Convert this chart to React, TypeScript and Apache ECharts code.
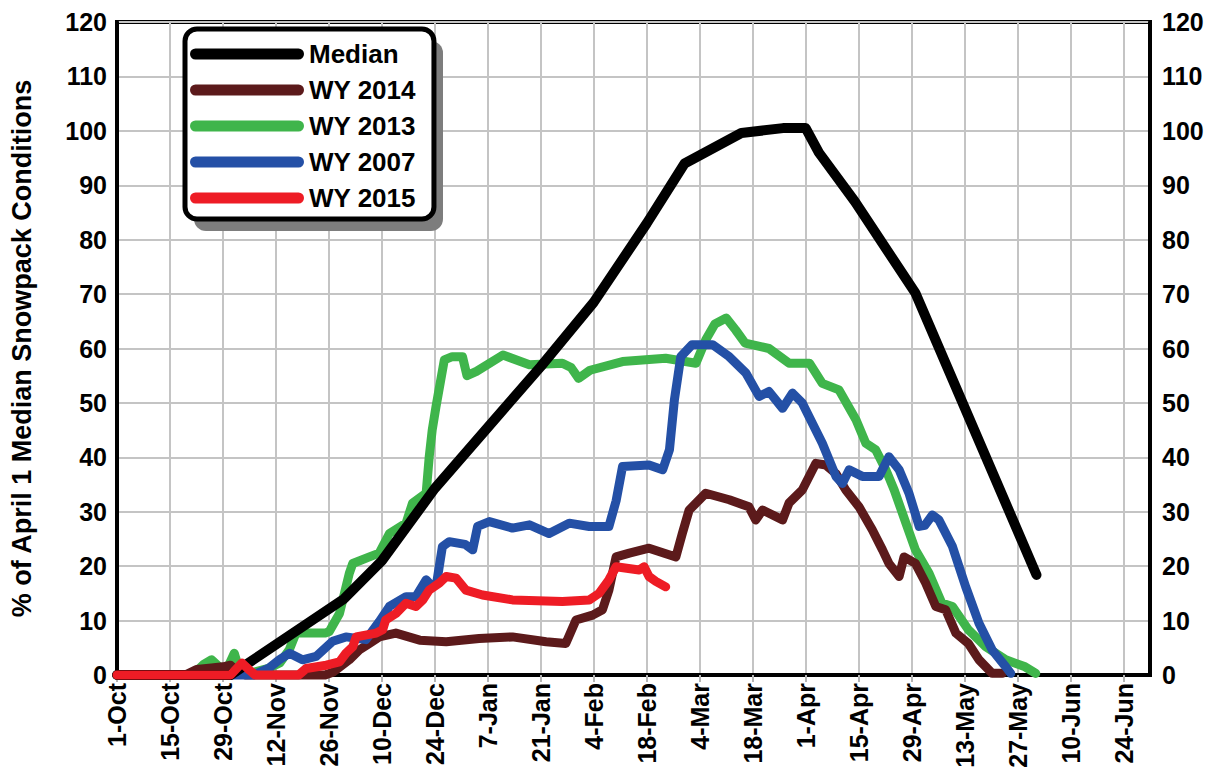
import React, { useEffect, useRef } from 'react';
import * as echarts from 'echarts';

// Tick labels for the day axis (day 0 = 1-Oct, one label every 14 days)
const xTickLabels = [
  '1-Oct', '15-Oct', '29-Oct', '12-Nov', '26-Nov', '10-Dec', '24-Dec', '7-Jan', '21-Jan', '4-Feb',
  '18-Feb', '4-Mar', '18-Mar', '1-Apr', '15-Apr', '29-Apr', '13-May', '27-May', '10-Jun', '24-Jun',
];

// [day since 1-Oct, % of April 1 median]
const median: [number, number][] = [
  [0, 0], [30, 0], [60, 14], [70, 21], [84, 34.3], [98, 45.5], [112, 56.7], [126, 68.5], [140, 83],
  [150, 94], [165, 99.6], [176, 100.5], [182, 100.5], [185.5, 96], [195, 87], [211, 70.2], [243, 18.4],
];

const wy2014: [number, number][] = [
  [0, 0], [18, 0], [21, 1], [25, 1.3], [28, 1.5], [30, 1.8], [32, 0.5], [34, 0], [55, 0], [57, 0.5],
  [61.4, 2.8], [64, 4.6], [66.7, 5.8], [69.3, 7], [73.7, 7.7], [80, 6.4], [87, 6.1], [95.7, 6.7],
  [104.5, 7], [113.4, 6.1], [118.6, 5.8], [121.3, 10.1], [125.7, 11], [128.3, 12], [130, 15.6],
  [131.9, 21.7], [135.4, 22.4], [140.6, 23.3], [147.7, 21.7], [149.4, 26], [151.2, 30.3], [155.6, 33.4],
  [161.8, 32.2], [167, 30.9], [168.8, 28.5], [170.6, 30.3], [175.9, 28.5], [177.6, 31.6], [181.1, 34],
  [184.7, 38.9], [187.3, 38.6], [190, 37], [192.6, 34], [196.1, 30.9], [199.6, 26.7], [202.3, 23],
  [204, 20.5], [206.7, 18.1], [208, 21.7], [211, 20.5], [213.7, 16.9], [216.4, 12.6], [219, 12],
  [221.7, 7.7], [225, 5.8], [227.8, 2.8], [231.3, 0.3], [234, 0.3],
];

const wy2013: [number, number][] = [
  [0, 0], [20, 0], [23, 2], [25, 2.8], [27, 1.5], [29, 1], [31, 4], [32.5, 0.5], [36, 0.5], [40, 1.2],
  [43, 2.2], [45.5, 4.6], [47.3, 7.7], [55, 7.7], [56.1, 8], [58.8, 11.3], [61.4, 18.7], [62.3, 20.5],
  [66.7, 21.7], [69.3, 22.4], [72, 26], [76.4, 27.9], [78.1, 31.6], [81.7, 33.4], [82.5, 40],
  [83.3, 45], [84.3, 49.3], [86.5, 57.9], [88.6, 58.5], [91.3, 58.5], [92.5, 55], [95, 55.8],
  [102, 58.8], [109, 57], [117.7, 57.3], [120, 56.5], [122, 54.5], [125, 56], [133.6, 57.6],
  [145, 58.2], [153, 57.3], [155.6, 61.6], [158, 64.5], [161, 65.6], [163.5, 63.4], [166, 61],
  [172.3, 60], [177.6, 57.3], [183, 57.3], [186.4, 53.6], [190.8, 52.4], [195.3, 46.9], [197.9, 42.6],
  [200.5, 41.4], [203.2, 37.7], [205.4, 34], [208.5, 27.9], [211, 23], [214.6, 18.7], [218, 13.2],
  [220.8, 12.6], [225, 8.3], [229.6, 5.2], [234.9, 2.8], [240, 1.5], [242.8, 0.3],
];

const wy2007: [number, number][] = [
  [0, 0], [36, 0], [40, 1.2], [42.9, 2.8], [45.6, 4], [49, 2.8], [52.6, 3.4], [57, 6.2], [60.5, 7],
  [65.8, 6.5], [69.3, 9.8], [72, 12.6], [76.4, 14.4], [79, 14.4], [81.7, 17.5], [83.4, 16.2],
  [84.5, 17], [86, 23.6], [87.8, 24.5], [92, 24], [94, 23], [95.3, 27.3], [98.4, 28.2], [104.5, 27],
  [109, 27.6], [114.2, 26], [119.5, 27.9], [124.8, 27.3], [130, 27.3], [131.9, 32], [133.6, 38.3],
  [140.6, 38.6], [144.2, 37.7], [146, 41.4], [147.3, 50.5], [149, 58.5], [152, 60.7], [157.4, 60.7],
  [161.8, 58.5], [166.2, 55.5], [169.7, 51.2], [172.3, 52.1], [175.9, 49], [178.5, 51.8], [181.1, 50],
  [186.4, 42.6], [190, 36.5], [191.7, 35.2], [193.5, 37.7], [197, 36.5], [201.4, 36.5], [204, 40.1],
  [206.7, 37.7], [209.3, 33.4], [212, 27.3], [213.5, 27.5], [215.5, 29.4], [217.2, 28.5],
  [220.8, 23.6], [224.3, 16.2], [227.8, 9.5], [231.3, 4.6], [234.9, 1.5], [236.2, 0.3],
];

const wy2015: [number, number][] = [
  [0, 0], [30, 0], [33, 2.2], [35, 0.9], [36.5, 0], [48, 0], [50, 1.2], [55.3, 1.8], [58.8, 2.4],
  [60.5, 4], [62.3, 5.2], [63.2, 7], [68.5, 7.7], [70.2, 8.3], [71, 10.1], [73.7, 11.3], [76.4, 13.2],
  [79, 12.6], [80.8, 13.8], [82.5, 15.6], [85.2, 16.9], [87, 18.1], [89.6, 17.8], [92.2, 15.6],
  [96.6, 14.7], [104.5, 13.8], [117.7, 13.5], [124.8, 13.8], [127.4, 15], [130, 17.5], [131.9, 19.9],
  [138, 19.3], [139.3, 19.9], [140.6, 18.1], [142.4, 17.2], [145, 16.2],
];

const FONT = '"Liberation Sans", Arial, Helvetica, sans-serif';
const CAPSULE = 'path://M5.5,0L108.5,0A5.5,5.5,0,0,1,108.5,11L5.5,11A5.5,5.5,0,0,1,5.5,0Z';

export default function App() {
  const ref = useRef<HTMLDivElement>(null);

  useEffect(() => {
    document.body.style.margin = '0';
    const chart = echarts.init(ref.current!, null, { renderer: 'svg' });

    const mk = (name: string, data: [number, number][], color: string, width: number) => ({
      name,
      type: 'line',
      data,
      symbol: 'none',
      showSymbol: false,
      clip: false,
      silent: true,
      itemStyle: { color },
      lineStyle: { color, width, cap: 'round', join: 'round' },
      emphasis: { disabled: true },
    });

    const labelStyle = { fontFamily: FONT, fontSize: 25, fontWeight: 'bold', color: '#000' };

    chart.setOption({
      animation: false,
      backgroundColor: '#fff',
      grid: {
        left: 117, right: 69, top: 22, bottom: 99,
        show: true, borderColor: '#000', borderWidth: 4, backgroundColor: 'transparent',
      },
      legend: {
        orient: 'vertical',
        left: 185,
        top: 29,
        padding: [12, 18, 8, 5],
        itemGap: 10,
        itemWidth: 114,
        itemHeight: 11,
        icon: CAPSULE,
        backgroundColor: '#fff',
        borderColor: '#000',
        borderWidth: 5,
        borderRadius: 12,
        selectedMode: false,
        textStyle: { fontFamily: FONT, fontSize: 26, fontWeight: 'bold', color: '#000', lineHeight: 26 },
        data: ['Median', 'WY 2014', 'WY 2013', 'WY 2007', 'WY 2015'],
      },
      graphic: [
        {
          type: 'rect',
          z: 3,
          silent: true,
          shape: { x: 194, y: 41, width: 249, height: 190, r: 12 },
          style: { fill: '#7d7d7d' },
        },
      ],
      xAxis: {
        type: 'value',
        min: 0,
        max: 273,
        interval: 14,
        axisLine: { show: true, lineStyle: { color: '#000', width: 4 } },
        axisTick: { show: true, length: 7, lineStyle: { color: '#b4b4b4', width: 2 } },
        axisLabel: {
          ...labelStyle,
          rotate: 90,
          margin: 8,
          showMaxLabel: false,
          formatter: (v: number) => {
            const i = v / 14;
            return Number.isInteger(i) && i < xTickLabels.length ? xTickLabels[i] : '';
          },
        },
        splitLine: { show: true, lineStyle: { color: '#c4c4c4', width: 2 } },
      },
      yAxis: [
        {
          type: 'value',
          min: 0,
          max: 120,
          interval: 10,
          position: 'left',
          axisLine: { show: true, lineStyle: { color: '#000', width: 4 } },
          axisTick: { show: false },
          axisLabel: { ...labelStyle, margin: 10 },
          splitLine: { show: true, lineStyle: { color: '#c4c4c4', width: 2 } },
          name: '% of April 1 Median Snowpack Conditions',
          nameLocation: 'middle',
          nameGap: 82,
          nameTextStyle: { fontFamily: FONT, fontSize: 27, fontWeight: 'bold', color: '#000' },
        },
        {
          type: 'value',
          min: 0,
          max: 120,
          interval: 10,
          position: 'right',
          axisLine: { show: true, lineStyle: { color: '#000', width: 4 } },
          axisTick: { show: false },
          axisLabel: { ...labelStyle, margin: 12 },
          splitLine: { show: false },
        },
      ],
      series: [
        mk('WY 2013', wy2013, '#3fb54b', 9),
        mk('WY 2014', wy2014, '#5c1a1b', 9),
        mk('WY 2007', wy2007, '#2450a6', 9),
        mk('Median', median, '#000000', 10),
        mk('WY 2015', wy2015, '#ee1c25', 9),
      ],
    });

    return () => chart.dispose();
  }, []);

  return <div ref={ref} style={{ width: 1219, height: 774 }} />;
}
